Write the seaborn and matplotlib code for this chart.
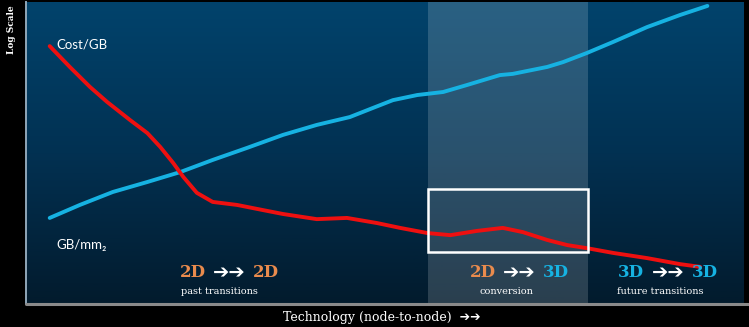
import numpy as np
import pandas as pd
import matplotlib
matplotlib.use("Agg")
import matplotlib.pyplot as plt
from matplotlib.patches import Rectangle
from matplotlib.lines import Line2D
from matplotlib.colors import LinearSegmentedColormap
import seaborn as sns

# Technology node position (0-100 across the span) and log-scale level
density_node = [3.3, 7.5, 12.1, 16.9, 21.5, 26.0, 30.8, 35.8, 40.5, 45.1, 48.3,
                51.1, 54.5, 58.1, 61.4, 66.0, 67.8, 72.6, 74.8, 78.1, 81.8,
                86.5, 91.1, 94.9]
density_level = [28.5, 32.8, 37.1, 40.4, 43.7, 47.7, 51.7, 56.0, 59.3, 61.9, 64.9,
                 67.5, 69.2, 70.2, 72.5, 75.8, 76.2, 78.5, 80.1, 83.1, 86.8,
                 91.7, 95.7, 98.7]

cost_node = [3.3, 6.1, 8.9, 11.3, 14.5, 16.9, 18.7, 20.5, 21.9, 23.8, 26.0, 29.4,
             33.0, 35.8, 40.5, 44.7, 48.9, 52.1, 55.9, 59.1, 62.8, 66.4, 69.2,
             72.6, 75.4, 78.1, 81.8, 86.5, 91.1, 93.9]
cost_level = [85.4, 78.5, 71.9, 66.9, 60.9, 56.6, 52.0, 46.7, 42.1, 36.8, 33.8, 32.8,
              31.1, 29.8, 28.1, 28.5, 26.8, 25.2, 23.5, 22.8, 24.2, 25.2, 23.8,
              21.2, 19.5, 18.5, 16.9, 15.2, 13.2, 12.3]

conversion_span = (56.0, 78.3)
highlight_levels = (17.2, 38.1)

phase_from = ["2D", "2D", "3D"]
phase_to = ["2D", "3D", "3D"]
phase_names = ["past transitions", "conversion", "future transitions"]
phase_arrow_x = [28.3, 68.7, 89.4]
phase_name_x = [27.0, 66.9, 88.3]

ORANGE = "#e98b4d"
CYAN = "#16b2e2"
RED = "#ee1010"
dim_color = {"2D": ORANGE, "3D": CYAN}

sns.set_style("dark")
plt.rcParams["font.family"] = ["DejaVu Serif", "DejaVu Sans"]

fig = plt.figure(figsize=(7.49, 3.27), dpi=100, facecolor="black")
W, H = 749, 327
ax = fig.add_axes([26 / W, (H - 304) / H, 718 / W, 302 / H])
ax.set_xlim(0, 100)
ax.set_ylim(0, 100)

# vertical blue gradient background
grad = LinearSegmentedColormap.from_list("bg", ["#021b2d", "#023152", "#01436c"])
ax.imshow(np.linspace(0, 1, 256).reshape(-1, 1), cmap=grad, origin="lower",
          extent=[0, 100, 0, 100], aspect="auto", zorder=0)

# 2D -> 3D conversion window
ax.axvspan(*conversion_span, color="white", alpha=0.16, lw=0, zorder=1)
ax.add_patch(Rectangle((conversion_span[0], highlight_levels[0]),
                       conversion_span[1] - conversion_span[0],
                       highlight_levels[1] - highlight_levels[0],
                       fill=False, ec="white", lw=1.8, zorder=4))

density = pd.DataFrame({"node": density_node, "level": density_level})
cost = pd.DataFrame({"node": cost_node, "level": cost_level})
sns.lineplot(data=density, x="node", y="level", color=CYAN, lw=2.8, ax=ax,
             sort=False, zorder=3, solid_capstyle="round", solid_joinstyle="round")
sns.lineplot(data=cost, x="node", y="level", color=RED, lw=2.8, ax=ax,
             sort=False, zorder=3, solid_capstyle="round", solid_joinstyle="round")

ax.text(4.3, 85.8, "Cost/GB", color="white", fontsize=9.5, family="Lato",
        va="center", ha="left", zorder=5)
ax.text(4.3, 19.5, "GB/mm₂", color="white", fontsize=9.5,
        family=["Lato", "DejaVu Sans"], va="center", ha="left", zorder=5)

for fr, to, name, xa, xn in zip(phase_from, phase_to, phase_names,
                                phase_arrow_x, phase_name_x):
    ax.text(xa - 5.1, 10.3, fr, color=dim_color[fr], fontsize=12,
            fontweight="bold", ha="center", va="center", zorder=5)
    ax.text(xa, 10.3, "➔➔", color="white", fontsize=14, family="DejaVu Sans",
            fontweight="bold", ha="center", va="center", zorder=5)
    ax.text(xa + 5.1, 10.3, to, color=dim_color[to], fontsize=12,
            fontweight="bold", ha="center", va="center", zorder=5)
    ax.text(xn, 4.3, name, color="white", fontsize=7, ha="center",
            va="center", zorder=5)

ax.set_xticks([])
ax.set_yticks([])
ax.set_xlabel("")
ax.set_ylabel("")
for side in ["top", "right", "bottom"]:
    ax.spines[side].set_visible(False)
ax.spines["left"].set_color("#8fa6b8")
ax.spines["left"].set_linewidth(1.4)

# baseline running out to the figure edge
fig.add_artist(Line2D([26 / W, 1.0], [(H - 304) / H] * 2, color="#8a8a8a",
                      lw=2.2, transform=fig.transFigure))

fig.text(382 / W, 1 - 318 / H, "Technology (node-to-node)  ➔➔", color="white",
         fontsize=9, ha="center", va="center")
fig.text(12 / W, 1 - 30 / H, "Log Scale", color="white", fontsize=6.5,
         fontweight="bold", rotation=90, ha="center", va="center")

fig.savefig("out.png", dpi=100, facecolor="black")
